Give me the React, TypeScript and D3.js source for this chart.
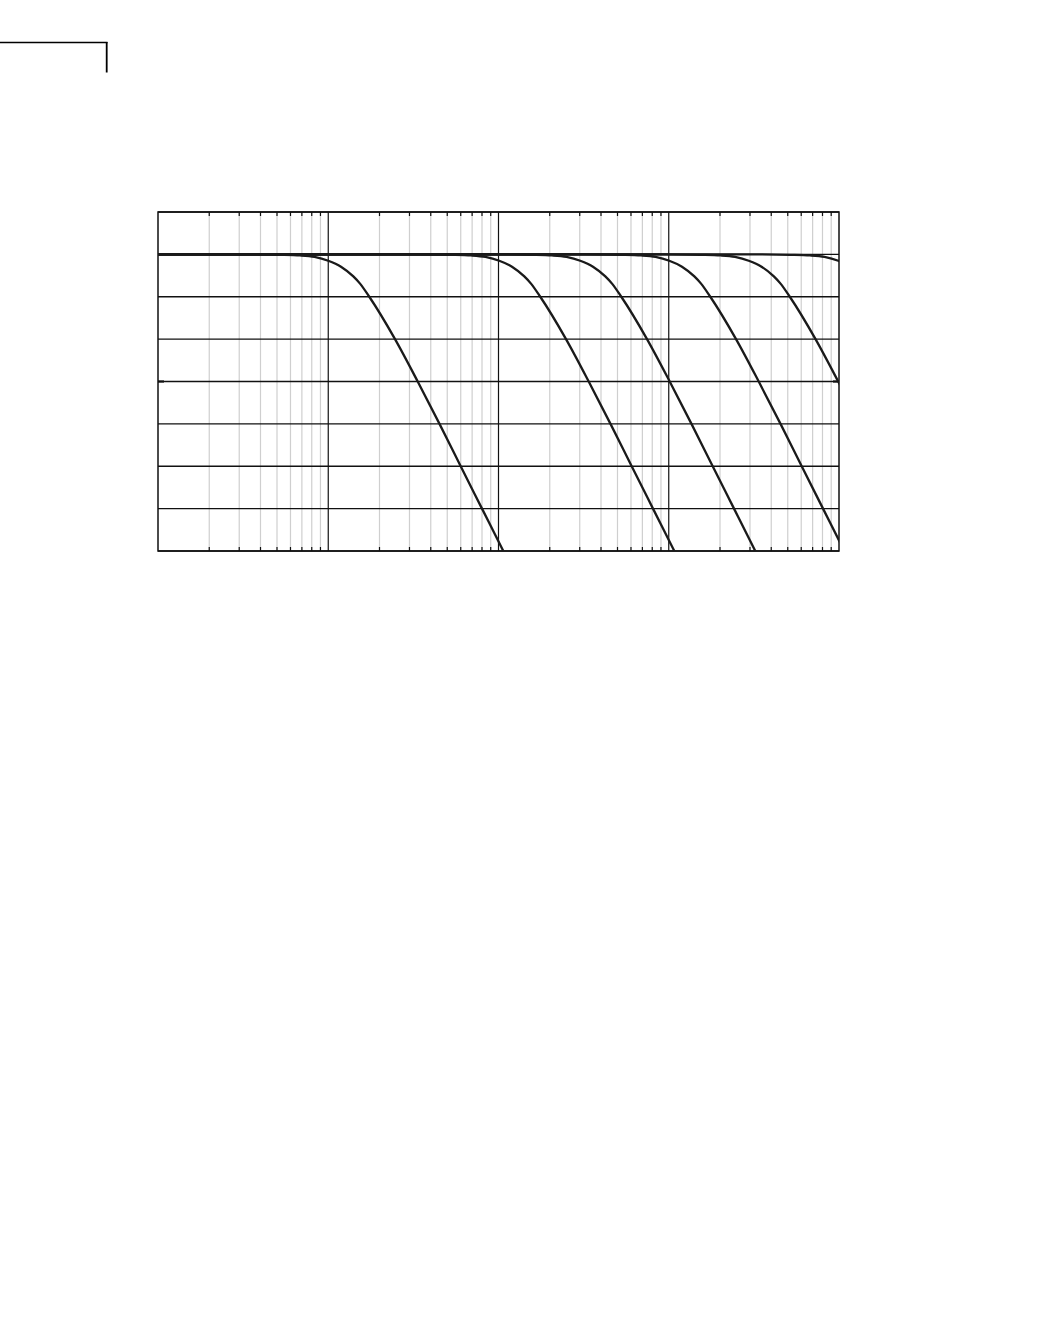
import React from "react";
import * as d3 from "d3";

// Frequency axis (normalised, 4 decades) and level axis (dB)
const freqDomain: [number, number] = [1, 10000];
const dbDomain: [number, number] = [-70, 10];
const dbTicks = [10, 0, -10, -20, -30, -40, -50, -60, -70];
const markedDb = [-30];

// Level values shared by the sampled points (dB)
const levels = [0, 0, -0.1, -0.25, -0.6, -1.5, -2.9, -5.2, -6.9, -10, -20, -30, -40, -50, -60, -70, -80];

// Frequencies at which each response reaches the levels above
const freqA = [1, 3.22, 5.21, 6.83, 8.31, 10.0, 11.88, 14.04, 15.37, 17.42, 24.67, 33.53, 45.03, 59.98, 80.0, 106.7, 142.1];
const freqB = [1, 32.5, 52.6, 69.0, 83.9, 101, 120, 141.8, 155.2, 175.9, 249.2, 338.7, 454.8, 605.8, 808, 1078, 1435];
const freqC = [1, 97.3, 157.4, 206.3, 251.0, 302.1, 358.9, 424.1, 464.3, 526.3, 745.3, 1013, 1360, 1812, 2417, 3223, 4293];
const freqD = [1, 324, 525, 688, 837, 1007, 1196, 1414, 1548, 1754, 2484, 3376, 4535, 6040, 8056, 10745, 14310];
const freqE = [1, 950, 1537, 2016, 2452, 2951, 3506, 4143, 4536, 5141, 7280, 9895, 13288, 17700, 23608, 31487, 41935];
const freqF = [1, 3188, 5158, 6762, 8227, 9900, 11761, 13900, 15216, 17246, 24423, 33195, 44580, 59380, 79200, 105633, 140679];
const responses = [freqA, freqB, freqC, freqD, freqE, freqF];

export default function App() {
  const left = 158, right = 839, top = 212, bottom = 551;
  const x = d3.scaleLog().domain(freqDomain).range([left, right]);
  const y = d3.scaleLinear().domain(dbDomain).range([bottom, top]);

  const allTicks = x.ticks();
  const isDecade = (v: number) => Math.abs(Math.log10(v) - Math.round(Math.log10(v))) < 1e-9;
  const decades = allTicks.filter(isDecade);
  const minors = allTicks.filter((v) => !isDecade(v));
  const innerDecades = decades.filter((v) => v > freqDomain[0] && v < freqDomain[1]);

  const line = d3
    .line<[number, number]>()
    .x((d) => x(d[0]))
    .y((d) => y(d[1]))
    .curve(d3.curveMonotoneX);

  return (
    <svg
      width={1048}
      height={1332}
      style={{ position: "absolute", left: 0, top: 0, background: "#fff" }}
    >
      {/* page corner mark */}
      <line x1={0} y1={42.5} x2={107.5} y2={42.5} stroke="#000" strokeWidth={1.3} />
      <line x1={106.7} y1={42} x2={106.7} y2={72.5} stroke="#000" strokeWidth={1.8} />

      <defs>
        <clipPath id="plot">
          <rect x={left} y={top} width={right - left} height={bottom - top} />
        </clipPath>
      </defs>

      {/* minor vertical grid */}
      {minors.map((v, i) => (
        <g key={"m" + i}>
          <line x1={x(v)} x2={x(v)} y1={top} y2={bottom} stroke="#cfcfcf" strokeWidth={1.2} />
          <line x1={x(v)} x2={x(v)} y1={top} y2={top + 4} stroke="#111" strokeWidth={1.2} />
          <line x1={x(v)} x2={x(v)} y1={bottom - 4} y2={bottom} stroke="#111" strokeWidth={1.2} />
        </g>
      ))}

      {/* decade lines */}
      {innerDecades.map((v, i) => (
        <line key={"d" + i} x1={x(v)} x2={x(v)} y1={top} y2={bottom} stroke="#111" strokeWidth={1.2} />
      ))}

      {/* horizontal grid */}
      {dbTicks.map((v, i) => (
        <line key={"h" + i} x1={left} x2={right} y1={y(v)} y2={y(v)} stroke="#111" strokeWidth={1.3} />
      ))}
      {markedDb.map((v, i) => (
        <g key={"t" + i}>
          <line x1={left} x2={left + 6} y1={y(v)} y2={y(v)} stroke="#111" strokeWidth={2.2} />
          <line x1={right - 6} x2={right} y1={y(v)} y2={y(v)} stroke="#111" strokeWidth={2.2} />
        </g>
      ))}

      {/* frame */}
      <rect x={left} y={top} width={right - left} height={bottom - top} fill="none" stroke="#111" strokeWidth={1.5} />

      {/* responses */}
      <g clipPath="url(#plot)">
        {responses.map((fs, i) => {
          const pts = fs.map((f, k) => [f, levels[k]] as [number, number]);
          return <path key={"c" + i} d={line(pts) || ""} fill="none" stroke="#1a1a1a" strokeWidth={2.3} />;
        })}
      </g>
    </svg>
  );
}
